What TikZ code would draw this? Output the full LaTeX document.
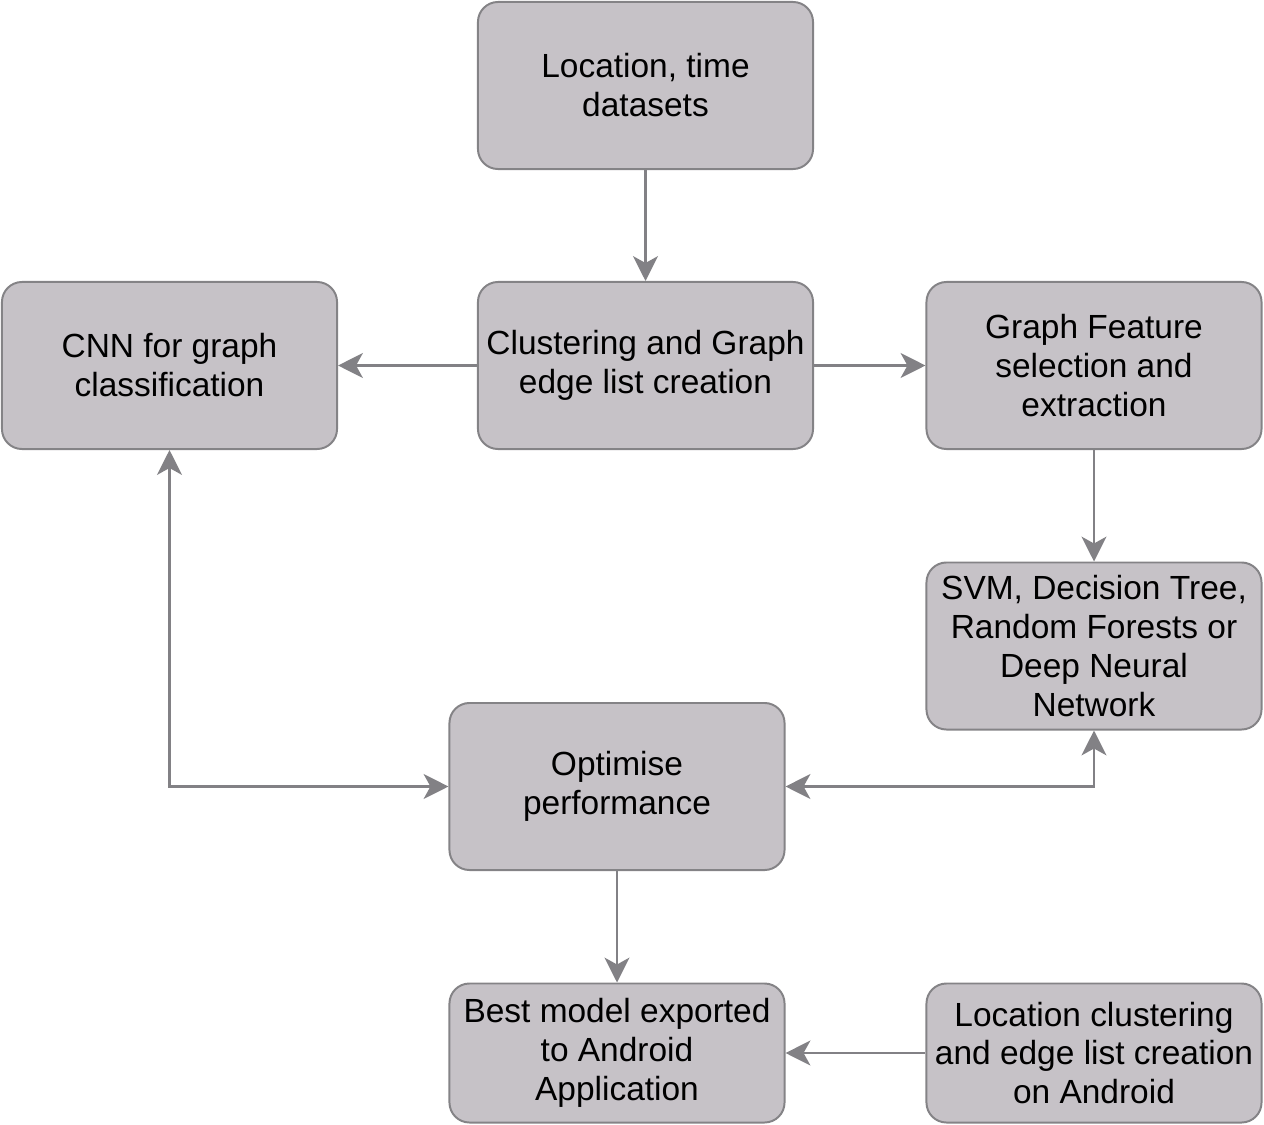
\documentclass[tikz,border=0pt]{standalone}
\usepackage{fontspec}
\setmainfont{Liberation Sans}
\usepackage{tikz}
\usetikzlibrary{arrows.meta,positioning}

\definecolor{boxfill}{HTML}{C6C2C7}
\definecolor{boxline}{HTML}{848386}
\definecolor{arrline}{HTML}{828185}

\tikzset{
    block/.style={draw=boxline, fill=boxfill, line width=1.4pt, rounded corners=0.5cm,
        minimum width=8.375cm, minimum height=4.175cm, align=center,
        font=\fontsize{23.8}{27.7}\selectfont},
    lowblock/.style={block, minimum height=3.475cm},
    flow/.style={draw=arrline, line width=2pt,
        -{Stealth[length=0.62cm, width=0.62cm, inset=0.17cm]}},
    dflow/.style={flow,
        {Stealth[length=0.62cm, width=0.62cm, inset=0.17cm]}-{Stealth[length=0.62cm, width=0.62cm, inset=0.17cm]}}
}

\begin{document}
\begin{tikzpicture}[x=0.025cm, y=-0.025cm]
    \useasboundingbox (0,0) rectangle (1264,1125);

    % Boxes
    \node[block] (loc) at (645.5,85.5) {Location, time\\datasets};
    \node[block] (cluster) at (645.5,365.5) {Clustering and Graph\\edge list creation};
    \node[block] (cnn) at (169.5,365.5) {CNN for graph\\classification};
    \node[block] (feat) at (1094,365.5) {Graph Feature\\selection and\\extraction};
    \node[block] (svm) at (1094,646) {SVM, Decision Tree,\\Random Forests or\\Deep Neural\\Network};
    \node[block] (optim) at (617,786.5) {Optimise\\performance};
    \node[lowblock] (best) at (617,1053) {Best model exported\\to Android\\Application};
    \node[lowblock] (android) at (1094,1053) {Location clustering\\and edge list creation\\on Android};

    % Connectors
    \draw[flow] (loc) -- (cluster);
    \draw[flow] (cluster) -- (cnn);
    \draw[flow] (cluster) -- (feat);
    \draw[flow] (feat) -- (svm);
    \draw[dflow] (cnn) |- (optim);
    \draw[dflow] (optim) -| (svm);
    \draw[flow] (optim) -- (best);
    \draw[flow] (android) -- (best);
\end{tikzpicture}
\end{document}
